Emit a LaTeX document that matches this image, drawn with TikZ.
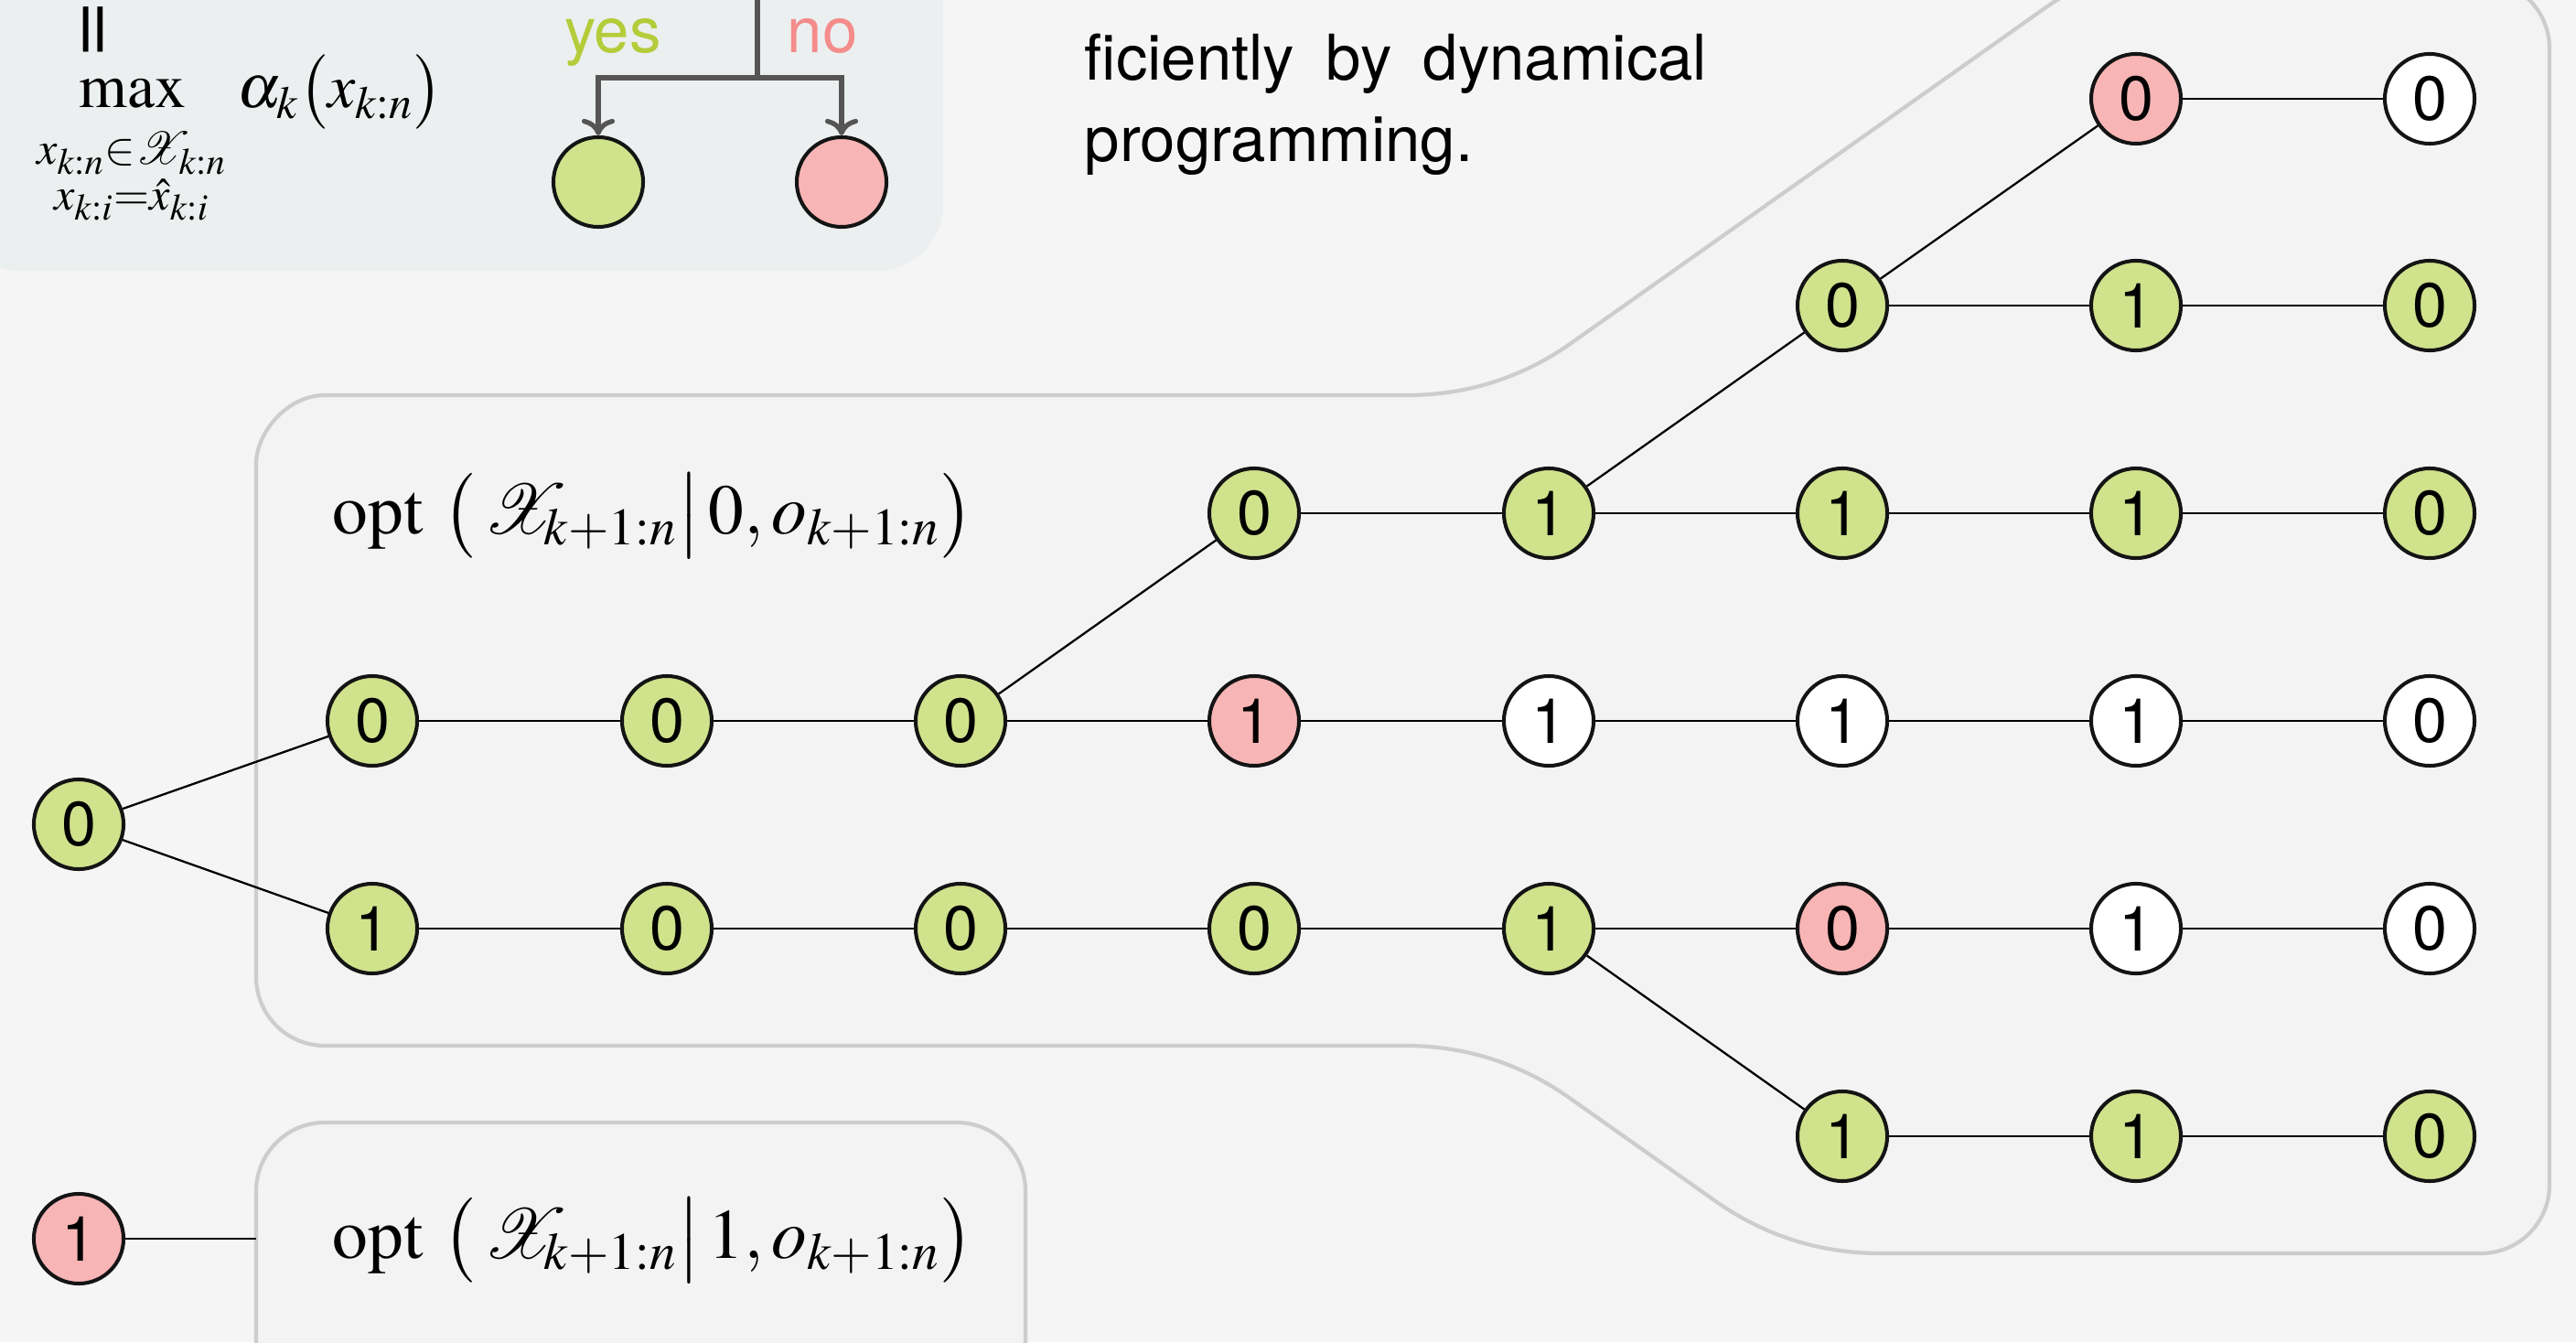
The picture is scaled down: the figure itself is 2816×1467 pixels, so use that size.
\documentclass[tikz,border=0pt]{standalone}
\usepackage{amsmath}
\usepackage{mathptmx}
\usepackage[no-math]{fontspec}
\setmainfont{TeX Gyre Heros}
\usetikzlibrary{arrows.meta}
\definecolor{bgc}{HTML}{F5F5F5}
\definecolor{panelc}{HTML}{F2F3F2}
\definecolor{topboxc}{HTML}{ECEFEF}
\definecolor{borderc}{HTML}{CDCDCD}
\definecolor{grn}{HTML}{D0E28C}
\definecolor{pnk}{HTML}{F8B5B5}
\definecolor{yesc}{HTML}{B5CC3A}
\definecolor{noc}{HTML}{F58C8C}
\definecolor{arrc}{HTML}{555555}
\tikzset{
  bit/.style={circle, draw=black!92, line width=1.15pt, minimum size=0.98cm, inner sep=0pt, font=\fontsize{19.4}{23}\selectfont},
  gbit/.style={bit, fill=grn},
  pbit/.style={bit, fill=pnk},
  wbit/.style={bit, fill=white},
  edge/.style={line width=0.65pt, black},
  panel/.style={fill=panelc, draw=borderc, line width=1.2pt},
  arr/.style={draw=arrc, line width=1.5pt, -{To[length=1.8mm,width=3.6mm]}},
  txt/.style={inner sep=0pt, font=\fontsize{19.6}{23}\selectfont},
  mth/.style={inner sep=0pt, font=\fontsize{19.3}{23}\selectfont},
  bigmth/.style={inner sep=0pt, font=\fontsize{22}{26}\selectfont}
}
\begin{document}
\begin{tikzpicture}[x=0.01cm,y=-0.01cm]
\useasboundingbox (0,0) rectangle (2816,1467);
\clip (0,0) rectangle (2816,1467);
\fill[bgc] (0,0) rectangle (2816,1467);

% top-left box
\fill[topboxc, rounded corners=0.72cm] (-50,-100) rectangle (1031,296);

% big panel
\path[panel] (280,800) -- (280,507) .. controls (280,473.4) and (313.6,432) .. (355,432)
  -- (1537,432) .. controls (1604,432) and (1664.6,412.8) .. (1718.6,374.3)
  -- (2238.2,6.9) .. controls (2265.4,-12.4) and (2295.7,-22) .. (2329,-22)
  -- (2712,-22) .. controls (2753.4,-22) and (2787,11.6) .. (2787,53)
  -- (2787,1295) .. controls (2787,1336.4) and (2753.4,1370) .. (2712,1370)
  -- (2056,1370) .. controls (1989.3,1370) and (1928.8,1350.8) .. (1874.4,1312.3)
  -- (1716.6,1200.7) .. controls (1662.2,1162.2) and (1601.7,1143) .. (1535,1143)
  -- (355,1143) .. controls (313.6,1143) and (280,1109.4) .. (280,1068) -- cycle;

% small panel
\path[panel, rounded corners=0.75cm] (280,1227) rectangle (1121,1650);

% top-left contents
\node[txt, rotate=90, xscale=1.6, yscale=1.25] (eq) at (107.5,32) {=};
\node[mth, anchor=base] (mx) at (145,118) {$\displaystyle\max$};
\node[mth, anchor=base] (lim1) at (144,180) {$\scriptstyle x_{k:n}\in\mathcal{X}_{k:n}$};
\node[mth, anchor=base] (lim2) at (144,230) {$\scriptstyle x_{k:i}=\hat{x}_{k:i}$};
\node[mth, anchor=base west] (al) at (259,118) {$\alpha_k\bigl(x_{k:n}\bigr)$};
\node[txt, anchor=base, text=yesc] (yes) at (670,58) {yes};
\node[txt, anchor=base, text=noc] (no) at (899,58) {no};
\node[gbit] (ygn) at (654,199) {};
\node[pbit] (npn) at (920,199) {};
\coordinate (src) at (828,-10);
\coordinate (split) at (828,85);
\draw[arr] (src) -- (split) -| (ygn);
\draw[arr] (split) -| (npn);

% text
\node[txt, anchor=base west] (t1) at (1185,88) {ficiently\hskip 0.5em by\hskip 0.5em dynamical};
\node[txt, anchor=base west] (t2) at (1185,177) {programming.};

% labels in panels
\node[bigmth, anchor=base west] (opt0) at (363,583) {$\operatorname{opt}\mskip5mu\bigl(\,\mathcal{X}_{\!k+1:n}\big|\,0, o_{k+1:n}\bigr)$};
\node[bigmth, anchor=base west] (opt1) at (363,1375) {$\operatorname{opt}\mskip5mu\bigl(\,\mathcal{X}_{\!k+1:n}\big|\,1, o_{k+1:n}\bigr)$};

% tree nodes
\node[gbit] (r0) at (86,901) {0};
\node[pbit] (r1) at (86,1354) {1};
% row 3
\node[gbit] (a1) at (407,788) {0};
\node[gbit] (a2) at (729,788) {0};
\node[gbit] (a3) at (1050,788) {0};
\node[pbit] (a4) at (1371,788) {1};
\node[wbit] (a5) at (1693,788) {1};
\node[wbit] (a6) at (2014,788) {1};
\node[wbit] (a7) at (2335,788) {1};
\node[wbit] (a8) at (2656,788) {0};
% row 2
\node[gbit] (b4) at (1371,561) {0};
\node[gbit] (b5) at (1693,561) {1};
\node[gbit] (b6) at (2014,561) {1};
\node[gbit] (b7) at (2335,561) {1};
\node[gbit] (b8) at (2656,561) {0};
% row 1
\node[gbit] (c6) at (2014,334) {0};
\node[gbit] (c7) at (2335,334) {1};
\node[gbit] (c8) at (2656,334) {0};
% row 0
\node[pbit] (d7) at (2335,108) {0};
\node[wbit] (d8) at (2656,108) {0};
% row 4
\node[gbit] (e1) at (407,1015) {1};
\node[gbit] (e2) at (729,1015) {0};
\node[gbit] (e3) at (1050,1015) {0};
\node[gbit] (e4) at (1371,1015) {0};
\node[gbit] (e5) at (1693,1015) {1};
\node[pbit] (e6) at (2014,1015) {0};
\node[wbit] (e7) at (2335,1015) {1};
\node[wbit] (e8) at (2656,1015) {0};
% row 5
\node[gbit] (f6) at (2014,1242) {1};
\node[gbit] (f7) at (2335,1242) {1};
\node[gbit] (f8) at (2656,1242) {0};

\coordinate (box1w) at (280,1354);

% edges
\draw[edge] (r0) -- (a1);
\draw[edge] (r0) -- (e1);
\draw[edge] (a1) -- (a2) -- (a3) -- (a4) -- (a5) -- (a6) -- (a7) -- (a8);
\draw[edge] (a3) -- (b4);
\draw[edge] (b4) -- (b5) -- (b6) -- (b7) -- (b8);
\draw[edge] (b5) -- (c6);
\draw[edge] (c6) -- (c7) -- (c8);
\draw[edge] (c6) -- (d7);
\draw[edge] (d7) -- (d8);
\draw[edge] (e1) -- (e2) -- (e3) -- (e4) -- (e5) -- (e6) -- (e7) -- (e8);
\draw[edge] (e5) -- (f6);
\draw[edge] (f6) -- (f7) -- (f8);
\draw[edge] (r1) -- (box1w);
\end{tikzpicture}
\end{document}
